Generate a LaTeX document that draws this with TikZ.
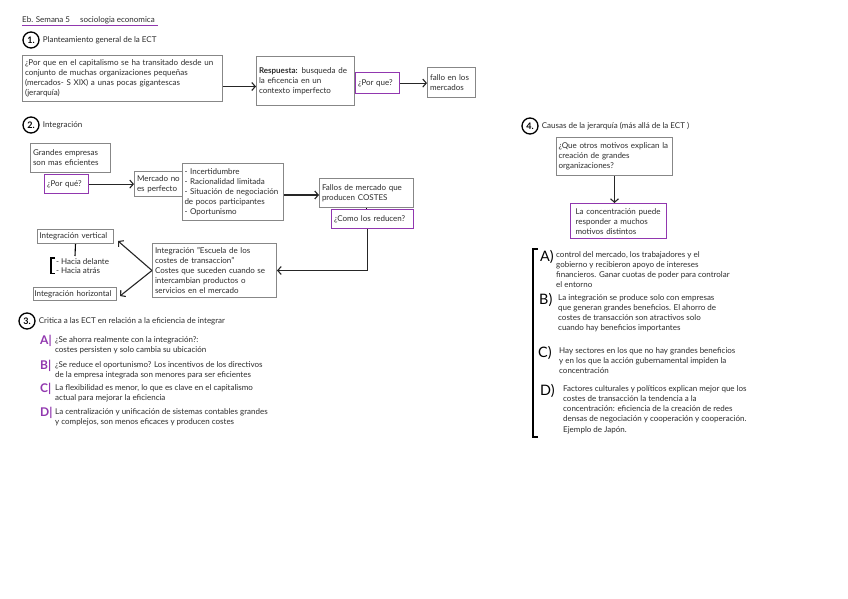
\documentclass[tikz,border=0pt]{standalone}
\usepackage{fontspec}
\setmainfont{Lato}
\definecolor{notepurple}{RGB}{145, 55, 175}
\definecolor{boxgray}{RGB}{135, 135, 135}
\definecolor{inkgray}{RGB}{45, 45, 45}
\usetikzlibrary{
    arrows.meta,
    positioning,
    calc
}
\newcommand{\notesize}{\fontsize{8}{10}\selectfont}
\newcommand{\causasize}{\fontsize{8}{10.3}\selectfont}
\tikzset{
    box/.style={draw=boxgray, line width=1pt, inner xsep=2.5pt, inner ysep=2pt,
        align=left, anchor=north west, font=\notesize, text=inkgray},
    askbox/.style={box, draw=notepurple, line width=1.2pt},
    arr/.style={-{Straight Barb[length=3.5pt,width=8pt]}, line width=1.1pt, black!85},
    num/.style={circle, draw, line width=1.3pt, inner sep=0pt, minimum size=16pt,
        font=\bfseries\small},
    note/.style={font=\notesize, text=inkgray, anchor=west, inner sep=0pt},
    txt/.style={font=\notesize, text=inkgray, anchor=north west, align=left, inner sep=0pt},
    critletter/.style={font=\large\bfseries, text=notepurple, anchor=west, inner sep=0pt},
    causaletter/.style={font=\Large, text=black, anchor=west, inner sep=0pt}
}

\begin{document}
\begin{tikzpicture}[x=1pt, y=-1pt]
    \useasboundingbox[fill=white] (0,0) rectangle (848,599);

    % Header
    \node[note] (titulo) at (22,20) {Eb. Semana 5 \quad sociologia economica};
    \draw[notepurple, line width=1.2pt] ([yshift=-2pt]titulo.south west) -- ([xshift=3pt,yshift=-2pt]titulo.south east);

    % 1. Planteamiento general
    \node[num] (n1) at (31,40) {1.};
    \node[note, right=3pt of n1] (t1) {Planteamiento general de la ECT};
    \node[box, text width=195pt, minimum height=46pt] (pregunta) at (22,55)
        {¿Por que en el capitalismo se ha transitado desde un\\ conjunto de muchas organizaciones pequeñas\\ (mercados- S XIX) a unas pocas gigantescas\\ (jerarquía)};
    \node[box, text width=93pt, minimum height=49pt] (respuesta) at (256,56)
        {\textbf{Respuesta:} busqueda de\\ la eficencia en un\\ contexto imperfecto};
    \node[askbox, text width=39pt, minimum height=21pt] (porque1) at (355,72) {¿Por que?};
    \node[box, text width=43pt, minimum height=30pt] (fallo) at (427,67) {fallo en los\\ mercados};
    \draw[arr] ([yshift=-8pt]pregunta.east) -- ([yshift=-8pt]pregunta.east -| respuesta.west);
    \draw[arr] (porque1.east) -- (porque1.east -| fallo.west);

    % 2. Integracion
    \node[num] (n2) at (31,125) {2.};
    \node[note, right=3pt of n2] (t2) {Integración};
    \node[box, text width=75pt, minimum height=29pt] (grandes) at (30,143) {Grandes empresas\\ son mas eficientes};
    \node[askbox, text width=39pt, minimum height=19pt] (porque2) at (44,174) {¿Por qué?};
    \node[box, text width=43pt, minimum height=25pt] (mercado) at (134,171) {Mercado no\\ es perfecto};
    \node[box, text width=97pt, minimum height=57pt, inner xsep=2pt] (causas) at (182,163)
        {- Incertidumbre\\ - Racionalidad limitada\\ - Situación de negociación\\ de pocos participantes\\ - Oportunismo};
    \node[box, text width=89pt, minimum height=29pt] (fallos) at (319,178) {Fallos de mercado que\\ producen COSTES};
    \node[askbox, text width=77pt, minimum height=19pt] (como) at (331,209) {¿Como los reducen?};
    \node[box, text width=119pt, minimum height=54pt] (escuela) at (152,243)
        {Integración "Escuela de los\\ costes de transaccion"\\ Costes que suceden cuando se\\ intercambian productos o\\ servicios en el mercado};
    \node[box, text width=72pt, minimum height=14pt, inner xsep=2pt, inner ysep=1pt] (vertical) at (37,229) {Integración vertical};
    \node[box, text width=81pt, minimum height=13pt, inner xsep=1pt, inner ysep=1pt] (horizontal) at (33,287) {Integración horizontal};
    \draw[arr] (porque2.east) -- (porque2.east -| mercado.west);
    \draw[arr] ([yshift=-3pt]causas.east) -- ([yshift=-3pt]causas.east -| fallos.west);
    \draw[line width=1.1pt] (fallos.south) -- (fallos.south |- como.north);
    \draw[arr] ([xshift=-5pt]como.south) |- (escuela.east);
    \draw[arr] (escuela.west) -- ([xshift=4pt,yshift=3pt]vertical.south east);
    \draw[arr] (escuela.west) -- ([xshift=3pt,yshift=-2pt]horizontal.east);

    % vertical: hacia delante / atras
    \coordinate (tipos) at (75,256);
    \draw[line width=1.1pt] (vertical.south) -- (tipos);
    \node[txt] (delante) at (56,258) {- Hacia delante};
    \node[txt] (atras) at (56,267) {- Hacia atrás};
    \draw[line width=1.1pt] ([xshift=-1pt]delante.north west) -- ++(-4,0) |- ([xshift=-1pt]atras.south west);

    % 3. Criticas
    \node[num] (n3) at (27,321) {3.};
    \node[note, right=3pt of n3] (t3) {Critica a las ECT en relación a la eficiencia de integrar};
    \foreach \y/\l/\a/\b in {
        336/A/{¿Se ahorra realmente con la integración?:}/{costes persisten y solo cambia su ubicación},
        361/B/{¿Se reduce el oportunismo? Los incentivos de los directivos}/{de la empresa integrada son menores para ser eficientes},
        384/C/{La flexibilidad es menor, lo que es clave en el capitalismo}/{actual para mejorar la eficiencia},
        408/D/{La centralización y unificación de sistemas contables grandes}/{y complejos, son menos eficaces y producen costes}} {
        \node[critletter] (letra\l) at (40,\y+5) {\l|};
        \node[txt] (crit\l) at (55,\y) {\a\\ \b};
    }

    % 4. Causas de la jerarquia
    \node[num] (n4) at (530,126) {4.};
    \node[note, right=3pt of n4] (t4) {Causas de la jerarquía (más allá de la ECT )};
    \node[box, text width=112pt, minimum height=38pt, inner xsep=2pt] (motivos) at (556,137)
        {¿Que otros motivos explican la\\ creación de grandes\\ organizaciones?};
    \node[askbox, text width=86pt, minimum height=35pt, inner xsep=5pt] (concentracion) at (570,203)
        {La concentración puede\\ responder a muchos\\ motivos distintos};
    \draw[arr] (motivos.south) -- (motivos.south |- concentracion.north);

    \draw[line width=1.3pt] (538,249) -- (533,249) -- (533,437) -- (538,437);
    \foreach \y/\l/\lx/\x/\t in {
        251/A/540/556/{control del mercado, los trabajadores y el\\ gobierno y recibieron apoyo de intereses\\ financieros. Ganar cuotas de poder para controlar\\ el entorno},
        294/B/539/558/{La integración se produce solo con empresas\\ que generan grandes beneficios. El ahorro de\\ costes de transacción son atractivos solo\\ cuando hay beneficios importantes},
        347/C/538/559/{Hay sectores en los que no hay grandes beneficios\\ y en los que la acción gubernamental impiden la\\ concentración},
        385/D/540/563/{Factores culturales y políticos explican mejor que los\\ costes de transacción la tendencia a la\\ concentración: eficiencia de la creación de redes\\ densas de negociación y cooperación y cooperación.\\ Ejemplo de Japón.}} {
        \node[causaletter] (causa\l) at (\lx,\y+6) {\l)};
        \node[txt, font=\causasize] (texto\l) at (\x,\y) {\t};
    }
\end{tikzpicture}
\end{document}
